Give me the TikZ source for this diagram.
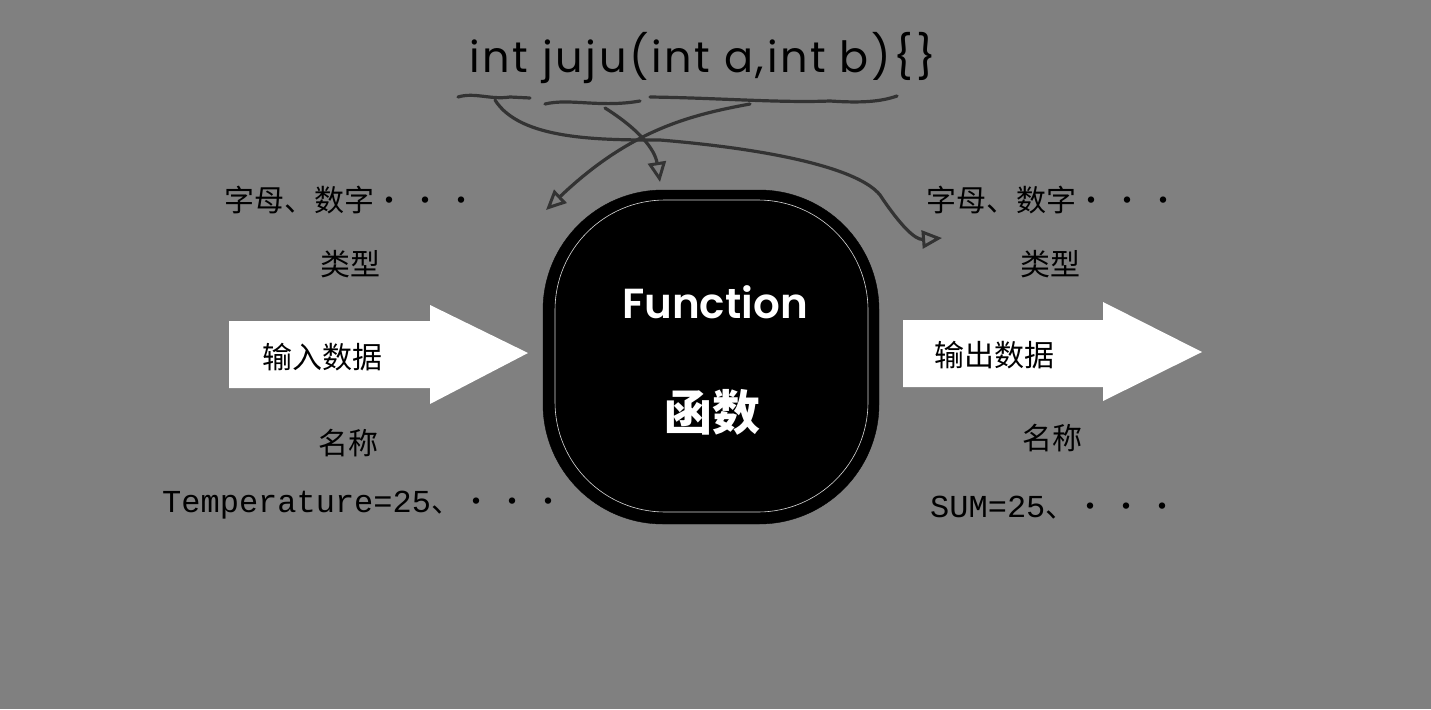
\documentclass[tikz,border=0pt]{standalone}
\usepackage{fontspec}
\setmainfont{Noto Sans CJK SC}
\newfontfamily\cjk{Noto Sans CJK SC}
\newfontfamily\monof{Liberation Mono}
\newfontfamily\handf{Poppins}
\newfontfamily\handb{Poppins SemiBold}
\newcommand{\ddd}{・\hspace{6pt}・\hspace{6pt}・}
\usetikzlibrary{arrows.meta}
\begin{document}
\begin{tikzpicture}[x=1pt,y=-1pt,
  lbl/.style={text=black,font=\cjk\fontsize{30}{30}\selectfont,inner sep=0pt},
  bigarrow/.style={fill=white,draw=none},
  pen/.style={draw=black!80,line width=3.2pt,line cap=round,line join=round},
  tip/.style={-{Triangle[open,length=20pt,width=18pt,line width=3pt]}}]
\fill[fill={rgb,255:red,128;green,128;blue,128}] (0,0) rectangle (1431,709);
\useasboundingbox (0,0) rectangle (1431,709);
% blob
\node (fn) [fill=black,draw=black,rounded corners=120pt,minimum width=336pt,minimum height=334pt,inner sep=0pt] at (711,357) {};
\draw[white!70!gray,line width=0.6pt,rounded corners=110pt] (555,200) rectangle (868,512);
\node (fnt) [text=white,font=\handb\fontsize{42}{42}\selectfont] at (715,302) {Function};
\node (fnc) [text=white,font=\cjk\fontsize{48}{48}\selectfont\bfseries] at (712,412) {函数};
% arrows
\fill[bigarrow] (229,321) -- (430,321) -- (430,305) -- (528,353) -- (430,404) -- (430,388) -- (229,388) -- cycle;
\fill[bigarrow] (903,320) -- (1103,320) -- (1103,302) -- (1202,352) -- (1103,401) -- (1103,387) -- (903,387) -- cycle;
\node (in) [lbl,anchor=west] at (262,357) {输入数据};
\node (out) [lbl,anchor=west] at (934,355) {输出数据};
% labels
\node (l1) [lbl,anchor=west] at (224,200) {字母、数字\ddd};
\node (r1) [lbl,anchor=west] at (926,200) {字母、数字\ddd};
\node (l2) [lbl] at (350,264) {类型};
\node (r2) [lbl] at (1050,264) {类型};
\node (l3) [lbl] at (348,443) {名称};
\node (r3) [lbl] at (1052,438) {名称};
\node (l4) [lbl,anchor=west] at (162,505) {{\monof\fontsize{32}{32}\selectfont Temperature=25}、\ddd};
\node (r4) [lbl,anchor=west] at (930,508) {{\monof\fontsize{32}{32}\selectfont SUM=25}、\ddd};
% code
\node (code) [text=black,font=\handf\fontsize{43}{43}\selectfont\addfontfeature{LetterSpace=6},anchor=west] at (466,58) {int juju(int a,int b)\{\}};
\draw[pen] (458,97) .. controls (475,92) and (490,100) .. (510,97) -- (530,98);
\draw[pen] (545,104) .. controls (570,98) and (600,108) .. (640,101);
\draw[pen] (650,97) .. controls (720,98) and (780,103) .. (830,101) .. controls (860,103) and (880,102) .. (897,96);
\coordinate (a1) at (942,238);
\coordinate (a2) at (660,182);
\coordinate (a3) at (546,210);
\draw[pen,tip] (495,100) .. controls (520,140) and (600,140) .. (660,140) .. controls (780,150) and (860,170) .. (880,195) .. controls (900,225) and (915,240) .. (a1);
\draw[pen,tip] (605,108) .. controls (640,130) and (655,150) .. (a2);
\draw[pen,tip] (750,104) .. controls (690,115) and (630,130) .. (a3);
\end{tikzpicture}
\end{document}
